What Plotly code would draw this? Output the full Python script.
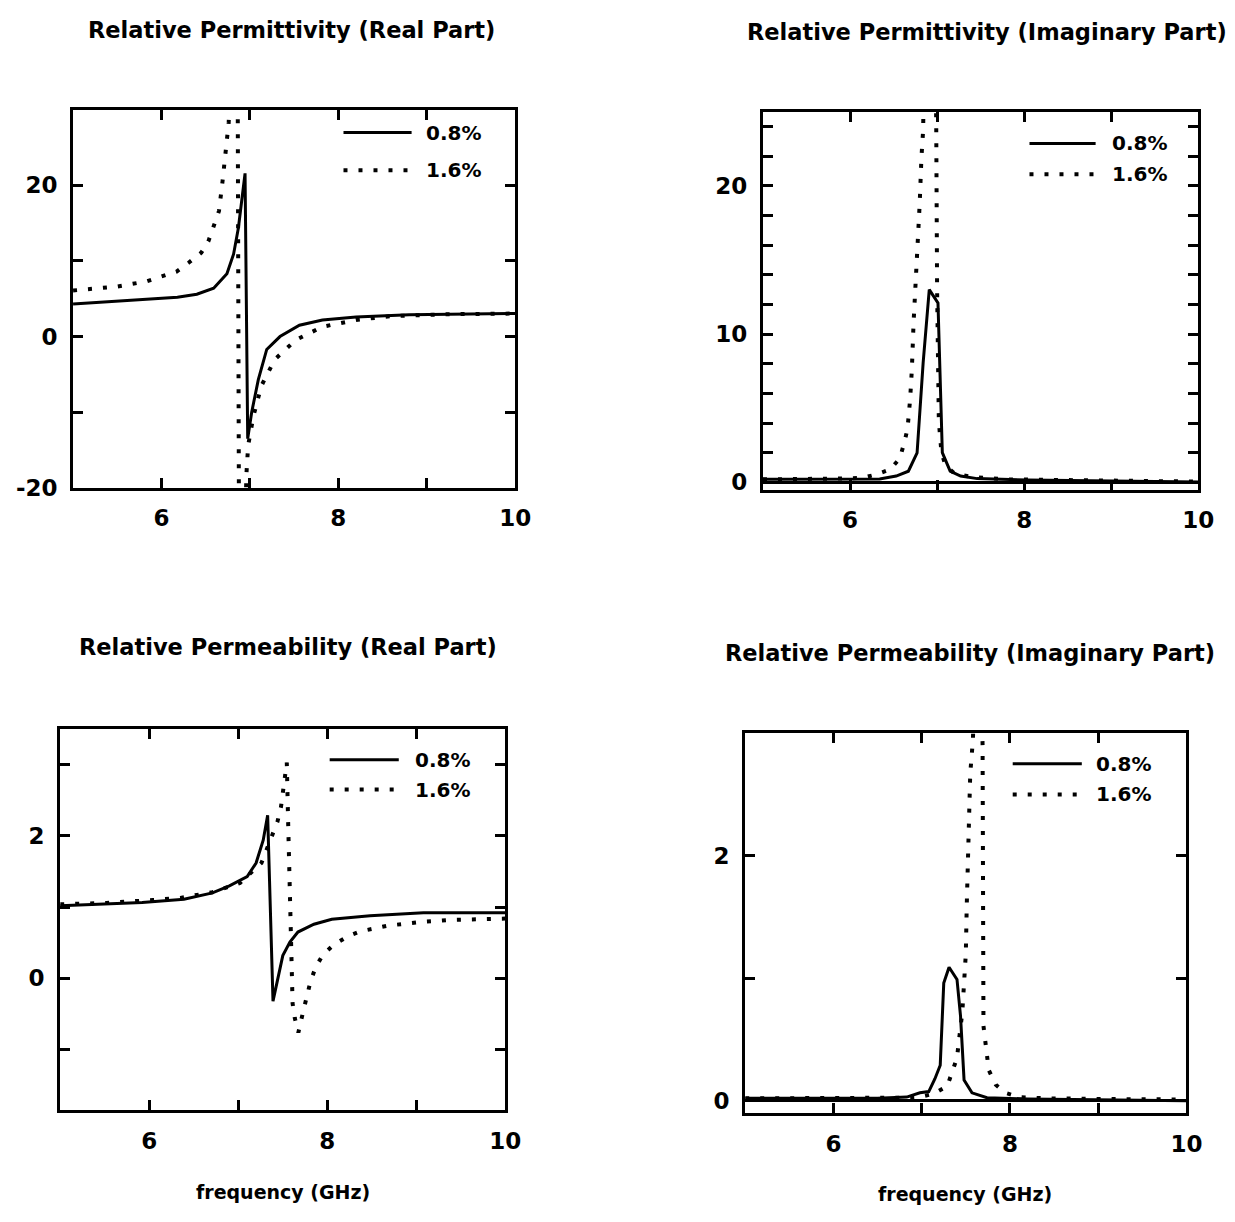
import plotly.graph_objects as go

W, H = 1235, 1222

# ---------------- data (frequency in GHz) ----------------
# Relative permittivity, real part
eps_re_f_08 = [5.0, 5.4, 5.8, 6.18, 6.4, 6.59, 6.74, 6.815, 6.87, 6.91, 6.945, 6.975,
               7.02, 7.095, 7.19, 7.34, 7.56, 7.82, 8.2, 8.8, 9.4, 10.0]
eps_re_08 = [4.3, 4.6, 4.9, 5.2, 5.6, 6.4, 8.3, 10.9, 14.4, 18.7, 21.6, -13.5,
             -10.0, -5.7, -1.7, 0.0, 1.5, 2.2, 2.6, 2.9, 3.0, 3.05]
eps_re_f_16 = [5.0, 5.49, 5.83, 6.17, 6.31, 6.45, 6.53, 6.585, 6.65, 6.69, 6.725, 6.76,
               6.80, 6.86, 6.88, 6.92, 6.96, 6.98, 7.04, 7.13, 7.28, 7.52, 7.82, 8.2,
               8.6, 9.2, 10.0]
eps_re_16 = [6.1, 6.6, 7.3, 8.6, 9.8, 11.1, 12.6, 14.4, 16.6, 20.5, 24.8, 28.3,
             40.0, 40.0, -40.0, -40.0, -18.3, -14.4, -10.5, -6.5, -3.05, -0.43, 1.3, 2.2,
             2.7, 2.95, 3.05]

# Relative permittivity, imaginary part
eps_im_f_08 = [5.0, 5.6, 6.1, 6.34, 6.53, 6.67, 6.77, 6.84, 6.91, 7.01, 7.06, 7.15,
               7.27, 7.46, 8.04, 9.0, 10.0]
eps_im_08 = [0.2, 0.2, 0.2, 0.22, 0.42, 0.75, 1.98, 8.1, 13.0, 12.1, 2.0, 0.75,
             0.42, 0.25, 0.15, 0.1, 0.03]
eps_im_f_16 = [5.0, 5.6, 6.0, 6.15, 6.30, 6.46, 6.57, 6.62, 6.66, 6.69, 6.71, 6.73,
               6.75, 6.77, 6.80, 6.82, 6.84, 6.87, 6.96, 6.99, 7.0, 7.02, 7.05, 7.1,
               7.2, 7.4, 7.8, 8.5, 10.0]
eps_im_16 = [0.2, 0.22, 0.26, 0.31, 0.53, 0.87, 1.6, 2.6, 3.6, 5.6, 7.6, 10.8,
             12.8, 15.8, 18.8, 21.9, 23.8, 40.0, 40.0, 24.2, 13.0, 4.1, 2.0, 1.1,
             0.6, 0.35, 0.2, 0.15, 0.05]

# Relative permeability, real part
mu_re_f_08 = [5.0, 5.5, 5.92, 6.39, 6.71, 6.90, 7.10, 7.20, 7.28, 7.33, 7.39, 7.50,
              7.58, 7.67, 7.85, 8.05, 8.48, 9.08, 10.0]
mu_re_08 = [1.02, 1.04, 1.065, 1.11, 1.2, 1.30, 1.43, 1.62, 1.94, 2.29, -0.32, 0.32,
            0.51, 0.65, 0.76, 0.83, 0.88, 0.92, 0.92]
mu_re_f_16 = [5.0, 5.52, 6.04, 6.35, 6.71, 7.02, 7.26, 7.36, 7.44, 7.48, 7.53, 7.545,
              7.56, 7.575, 7.585, 7.59, 7.60, 7.61, 7.635, 7.675, 7.73, 7.81, 7.87,
              7.95, 8.07, 8.23, 8.37, 8.68, 9.04, 9.39, 10.0]
mu_re_16 = [1.04, 1.06, 1.10, 1.13, 1.21, 1.34, 1.62, 1.95, 2.2, 2.41, 2.82, 3.03,
            2.2, 1.34, 0.69, 0.28, -0.14, -0.35, -0.56, -0.76, -0.46, -0.05, 0.16,
            0.33, 0.47, 0.59, 0.66, 0.74, 0.79, 0.82, 0.84]

# Relative permeability, imaginary part
mu_im_f_08 = [5.0, 6.0, 6.5, 6.83, 6.98, 7.08, 7.15, 7.21, 7.25, 7.31, 7.40, 7.44,
              7.48, 7.57, 7.74, 8.2, 9.0, 10.0]
mu_im_08 = [0.02, 0.02, 0.02, 0.03, 0.065, 0.075, 0.18, 0.29, 0.96, 1.09, 0.99, 0.69,
            0.17, 0.065, 0.025, 0.015, 0.01, 0.0]
mu_im_f_16 = [5.0, 6.0, 6.8, 7.0, 7.13, 7.29, 7.40, 7.42, 7.46, 7.48, 7.50, 7.51,
              7.52, 7.535, 7.55, 7.58, 7.61, 7.67, 7.69, 7.70, 7.725, 7.74, 7.76,
              7.84, 7.95, 8.11, 8.4, 9.0, 10.0]
mu_im_16 = [0.02, 0.02, 0.025, 0.035, 0.056, 0.12, 0.35, 0.48, 0.72, 0.96, 1.2, 1.58,
            1.95, 2.33, 2.67, 2.94, 3.6, 3.6, 2.9, 0.61, 0.48, 0.37, 0.25,
            0.13, 0.064, 0.03, 0.02, 0.015, 0.01]

series_names = ["0.8%", "1.6%"]
panel_titles = [
    "Relative Permittivity (Real Part)",
    "Relative Permittivity (Imaginary Part)",
    "Relative Permeability (Real Part)",
    "Relative Permeability (Imaginary Part)",
]
x_label = "frequency (GHz)"

# ---------------- styling ----------------
FONT = "DejaVu Sans"
SOLID = dict(color="black", width=3)
DOTTED = dict(color="black", width=4, dash="4px,11px")


def px(x):
    return x / W


def py(y):
    return 1 - y / H


panels = [
    dict(n="", data=[(eps_re_f_08, eps_re_08), (eps_re_f_16, eps_re_16)],
         box=(74, 522, 111, 493), yrange=[-20, 30],
         ytv=[-20, -10, 0, 10, 20, 30], ytt=["-20", "", "0", "", "20", ""],
         zero=False, leg=(348, 417, 134, 172, 430)),
    dict(n="2", data=[(eps_im_f_08, eps_im_08), (eps_im_f_16, eps_im_16)],
         box=(773, 1214, 113, 495), yrange=[-0.5, 25],
         ytv=list(range(0, 26, 2)),
         ytt=["0", "", "", "", "", "10", "", "", "", "", "20", "", ""],
         zero=True, leg=(1043, 1110, 145, 176, 1125)),
    dict(n="3", data=[(mu_re_f_08, mu_re_08), (mu_re_f_16, mu_re_16)],
         box=(61, 512, 737, 1122), yrange=[-1.85, 3.5],
         ytv=[-1, 0, 1, 2, 3], ytt=["", "0", "", "2", ""],
         zero=False, leg=(334, 404, 768, 798, 418)),
    dict(n="4", data=[(mu_im_f_08, mu_im_08), (mu_im_f_16, mu_im_16)],
         box=(755, 1202, 741, 1125), yrange=[-0.1, 3.0],
         ytv=[0, 1, 2, 3], ytt=["0", "", "2", ""],
         zero=True, leg=(1026, 1096, 772, 803, 1108)),
]

fig = go.Figure()
layout = dict(
    width=W, height=H,
    margin=dict(l=0, r=0, t=0, b=0),
    paper_bgcolor="white", plot_bgcolor="white",
    showlegend=False,
    font=dict(family=FONT, color="black"),
)

tick_font = dict(family=FONT, size=23, color="black", weight="bold")
axis_common = dict(
    showline=True, linecolor="black", linewidth=3, mirror="ticks",
    ticks="inside", ticklen=10, tickwidth=2.5, tickcolor="black",
    showgrid=False, tickfont=tick_font, fixedrange=True,
)

shapes = []
annotations = []

for p in panels:
    n = p["n"]
    xa, ya = "x" + n, "y" + n
    for (fx, fy), name, style in zip(p["data"], series_names, [SOLID, DOTTED]):
        fig.add_trace(go.Scatter(x=fx, y=fy, mode="lines", name=name, line=style,
                                 xaxis=xa, yaxis=ya, hoverinfo="skip"))
    x0, x1, y0, y1 = p["box"]
    layout["xaxis" + n] = dict(
        axis_common, domain=[px(x0), px(x1)], range=[5, 10], anchor=ya,
        tickvals=[5, 6, 7, 8, 9, 10], ticktext=["", "6", "", "8", "", "10"],
        zeroline=False, ticklabelstandoff=8,
    )
    layout["yaxis" + n] = dict(
        axis_common, domain=[py(y1), py(y0)], range=p["yrange"], anchor=xa,
        tickvals=p["ytv"], ticktext=p["ytt"], ticklabelstandoff=8,
        zeroline=p["zero"], zerolinecolor="black", zerolinewidth=2.5,
    )
    # in-plot key
    lx0, lx1, ly_a, ly_b, tx = p["leg"]
    for ly, style, name in [(ly_a, SOLID, series_names[0]), (ly_b, DOTTED, series_names[1])]:
        shapes.append(dict(type="line", xref="paper", yref="paper",
                           x0=px(lx0), x1=px(lx1), y0=py(ly), y1=py(ly),
                           line=style))
        annotations.append(dict(text=name, xref="paper", yref="paper",
                                x=px(tx), y=py(ly), xanchor="left", yanchor="middle",
                                showarrow=False,
                                font=dict(family=FONT, size=20, color="black", weight="bold")))

title_pos = [(295, 30), (1000, 32), (292, 654), (983, 660)]
for text, (tx, ty) in zip(panel_titles, title_pos):
    annotations.append(dict(text=text, xref="paper", yref="paper", x=px(tx), y=py(ty),
                            xanchor="center", yanchor="middle", showarrow=False,
                            font=dict(family=FONT, size=22.5, color="black", weight="bold")))

for tx, ty in [(287, 1205), (978, 1207)]:
    annotations.append(dict(text=x_label, xref="paper", yref="paper", x=px(tx), y=py(ty),
                            xanchor="center", yanchor="middle", showarrow=False,
                            font=dict(family=FONT, size=19, color="black", weight="bold")))

layout["shapes"] = shapes
layout["annotations"] = annotations
fig.update_layout(**layout)
fig.write_html("out.html")
